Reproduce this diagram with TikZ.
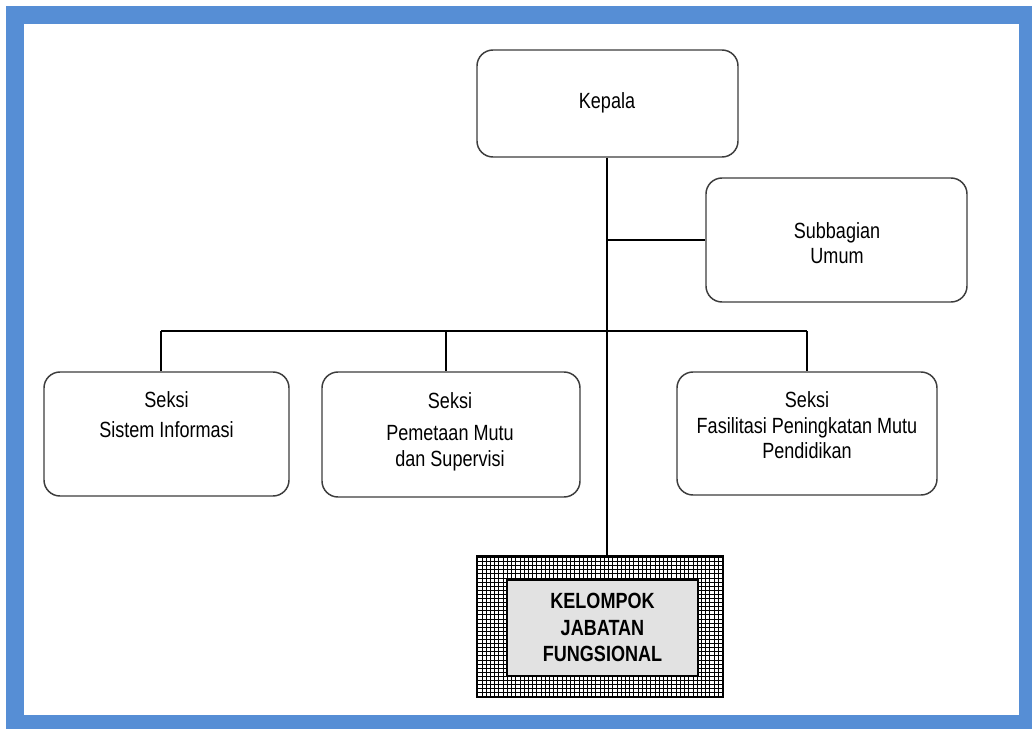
\documentclass[tikz,border=0pt]{standalone}
\usepackage{fontspec}
\setmainfont{Liberation Sans}[FakeStretch=0.82]
\usetikzlibrary{fit}
\definecolor{frameblue}{RGB}{86,142,213}
\definecolor{boxline}{RGB}{60,60,60}
\definecolor{innergray}{RGB}{226,226,226}
\begin{document}
\begin{tikzpicture}[x=0.75pt,y=-0.75pt,
  box/.style={draw=boxline, line width=1.1pt, rounded corners=12pt, inner sep=0pt},
  lbl/.style={anchor=north, align=center, inner sep=0pt, text=black},
  conn/.style={line width=1.5pt, black},
  gridline/.style={line width=0.75pt, black}]
\useasboundingbox (0,0) rectangle (1032,729);
\fill[white] (0,0) rectangle (1032,729);
\fill[frameblue] (6,6) rectangle (1032,729);
\fill[white] (24,24) rectangle (1019,715);

% boxes
\node[box, fit={(477,50) (738,157)}] (kepala) {};
\node[box, fit={(706,178) (967,302)}] (sub) {};
\node[box, fit={(44,372) (289,496)}] (s1) {};
\node[box, fit={(322,372) (580,497)}] (s2) {};
\node[box, fit={(677,372) (937,495)}] (s3) {};

% hatched box
\begin{scope}
\clip (477,556) rectangle (723,697);
\fill[white] (477,556) rectangle (723,697);
\foreach \i in {0,...,58} \draw[gridline] ({477.8+\i*4.22},556) -- ({477.8+\i*4.22},697);
\foreach \j in {0,...,34} \draw[gridline] (477,{557.5+\j*4.1}) -- (723,{557.5+\j*4.1});
\end{scope}
\node[draw=black, line width=1.3pt, inner sep=0pt, fit={(477,556) (723,697)}] (kjf) {};
\node[draw=black, line width=1.5pt, fill=innergray, inner sep=0pt, fit={(507,580) (698,676)}] (kjfin) {};

% labels
\node[lbl, font=\fontsize{16.5}{18}\selectfont] (tkep) at (607,92) {Kepala};
\node[lbl, font=\fontsize{16.5}{18.75}\selectfont] (tsub) at (837,222) {Subbagian\\Umum};
\node[lbl, font=\fontsize{16.5}{22}\selectfont] (ts1) at (166.5,391.5) {Seksi\\Sistem Informasi};
\node[lbl, font=\fontsize{16.5}{19.5}\selectfont] (ts2) at (450,392) {Seksi\\[4.5pt]Pemetaan Mutu\\dan Supervisi};
\node[lbl, font=\fontsize{16.5}{19}\selectfont] (ts3) at (807,391.5) {Seksi\\Fasilitasi Peningkatan Mutu\\Pendidikan};
\node[lbl, font=\bfseries\fontsize{16.5}{19.9}\selectfont] (tkjf) at (602.5,593) {KELOMPOK\\JABATAN\\FUNGSIONAL};

% connectors
\coordinate (spine) at (607,0);
\draw[conn] (spine |- kepala.south) -- (spine |- kjf.north);
\draw[conn] (spine |- sub.west) -- (sub.west);
\coordinate (d1) at (161,331);
\coordinate (d2) at (446,331);
\coordinate (d3) at (807,331);
\draw[conn] (d1) -- (d3);
\draw[conn] (d1) -- (d1 |- s1.north);
\draw[conn] (d2) -- (d2 |- s2.north);
\draw[conn] (d3) -- (d3 |- s3.north);
\end{tikzpicture}
\end{document}
